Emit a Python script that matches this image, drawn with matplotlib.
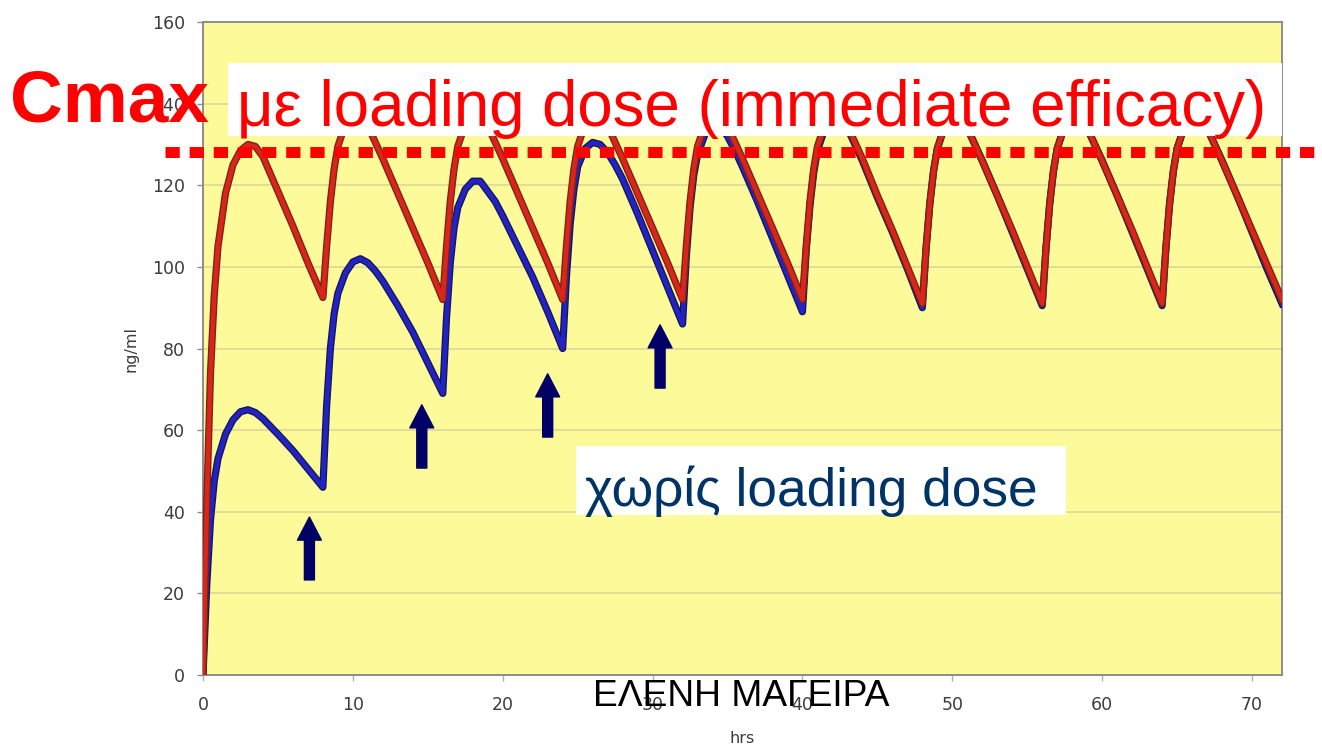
import matplotlib
matplotlib.use("Agg")
import matplotlib.pyplot as plt
from matplotlib.patches import Rectangle
from matplotlib.lines import Line2D
import matplotlib.patheffects as pe

# ---------------- data ----------------
dose_times = [0, 8, 16, 24, 32, 40, 48, 56, 64]
cycle_offsets = [0, 0.25, 0.5, 0.75, 1, 1.5, 2, 2.5, 3, 3.5, 4, 5, 6, 7]
end_time = 72

# with loading dose (red)
red_c1 = [0, 42, 74, 93, 105, 118, 125, 128.5, 130, 129.5, 127, 118.5, 110, 101]
red_c2 = [92.5, 105, 116, 124, 129.5, 135, 137.5, 137.5, 134.5, 130.5, 126.5, 118, 109.5, 101]
red_c3 = [92, 105, 116, 124, 129.5, 135, 137.5, 137.5, 134.5, 130.5, 126.5, 118, 109.5, 101]
red_c4 = [92, 105, 116, 124, 129.5, 135, 137.5, 137.5, 134.5, 130.5, 126.5, 118, 109.5, 101]
red_c5 = [92, 105, 116, 124, 129.5, 135, 137.5, 137.5, 134.5, 130.5, 126.5, 118, 109.5, 101]
red_c6 = [92, 105, 116, 124, 129.5, 135, 137.5, 137.5, 134.5, 130.5, 126.5, 117.5, 109, 100]
red_c7 = [91, 104.5, 115.5, 123.5, 129, 134.5, 137, 137, 134, 130, 126, 117.5, 109, 100]
red_c8 = [91, 104.5, 115.5, 123.5, 129, 134.5, 137, 137, 134, 130, 126, 117.5, 109, 100]
red_c9 = [91, 104.5, 115.5, 123.5, 129, 134.5, 137, 137, 134, 130, 126, 117.5, 109, 100.5]
red_end = 92

# without loading dose (blue)
blue_c1 = [0, 22, 38, 47.5, 53, 59, 62.5, 64.5, 65, 64.3, 62.8, 59, 55, 50.5]
blue_c2 = [46, 66, 80, 88.5, 93.5, 98.5, 101.2, 102, 101, 99, 96.5, 90.5, 84, 76.5]
blue_c3 = [69, 87.5, 101, 109.5, 114.5, 119, 121, 121, 118.5, 116, 112.5, 105, 97.5, 89]
blue_c4 = [80, 97.5, 110.5, 119, 124.5, 129, 130.5, 130, 128, 125, 121.5, 113, 104, 95]
blue_c5 = [86, 102.5, 114.5, 122.5, 127.5, 132.5, 134.5, 134.5, 132, 128.5, 124.5, 116, 107, 98]
blue_c6 = [89, 104, 115, 123, 128.5, 134, 136.5, 136.5, 134, 130, 126, 117, 108.5, 99.5]
blue_c7 = [90, 104.5, 115.5, 123.5, 129, 134.5, 137, 137, 134, 130, 126, 117.5, 108.5, 99.5]
blue_c8 = [90.5, 104.5, 115.5, 123.5, 129, 134.5, 137, 137, 134, 130, 126, 117.5, 108.5, 99.5]
blue_c9 = [90.5, 104.5, 115.5, 123.5, 129, 134.5, 137, 137, 134, 130, 126, 117.5, 108.5, 99.5]
blue_end = 91

red_cycles = [red_c1, red_c2, red_c3, red_c4, red_c5, red_c6, red_c7, red_c8, red_c9]
blue_cycles = [blue_c1, blue_c2, blue_c3, blue_c4, blue_c5, blue_c6, blue_c7, blue_c8, blue_c9]

y_ticks = [0, 20, 40, 60, 80, 100, 120, 140, 160]
x_ticks = [0, 10, 20, 30, 40, 50, 60, 70]

# dosing arrows (x, tail, tip) in data units
arrow_x = [7.1, 14.6, 23.0, 30.5]
arrow_tail = [23.3, 50.7, 58.3, 70.3]
arrow_tip = [38.7, 66.2, 73.8, 85.8]

title_cmax = "Cmax"
title_rest = "με loading dose (immediate efficacy)"
label_without = "χωρίς loading dose"
author = "ΕΛΕΝΗ ΜΑΓΕΙΡΑ"


def build(cycles, end_val):
    t, y = [], []
    for d, vals in zip(dose_times, cycles):
        for o, v in zip(cycle_offsets, vals):
            t.append(d + o)
            y.append(v)
    t.append(end_time)
    y.append(end_val)
    return t, y


W, H = 1322, 747
plt.rcParams['font.family'] = ['DejaVu Sans']
fig = plt.figure(figsize=(W / 100, H / 100), dpi=100)
fig.patch.set_facecolor('white')

ax = fig.add_axes([203 / W, 1 - 675 / H, 1079 / W, 653 / H])
ax.set_facecolor('#FDFB99')
ax.set_xlim(0, 72)
ax.set_ylim(0, 160)
ax.set_yticks(y_ticks)
ax.set_xticks(x_ticks)
ax.grid(axis='y', color='#DCD79A', lw=1.2)
ax.set_axisbelow(True)
for s in ax.spines.values():
    s.set_color('#8c8c8c')
    s.set_linewidth(1.4)
ax.tick_params(axis='y', length=4, width=1, color='#8c8c8c', pad=9,
               labelsize=12.5, labelcolor='#3c3c3c')
ax.tick_params(axis='x', length=4, width=1, color='#b0b0b0', pad=11,
               labelsize=12.5, labelcolor='#3c3c3c')
ax.set_ylabel('ng/ml', fontsize=11.5, color='#3c3c3c')
ax.set_xlabel('hrs', fontsize=11.5, color='#3c3c3c')
ax.yaxis.set_label_coords(-0.06, 0.5)
ax.xaxis.set_label_coords(0.4995, -0.0965)
ax.xaxis.label.set_va('center')

tb, yb = build(blue_cycles, blue_end)
tr, yr = build(red_cycles, red_end)
ax.plot(tb, yb, color='#2323C4', lw=3.3, solid_joinstyle='round', zorder=3,
        path_effects=[pe.Stroke(linewidth=5.2, foreground='#14145A'), pe.Normal()])
ax.plot(tr, yr, color='#D8261A', lw=3.3, solid_joinstyle='round', zorder=4,
        path_effects=[pe.Stroke(linewidth=5.2, foreground='#7A2216'), pe.Normal()])

for x, a, b in zip(arrow_x, arrow_tail, arrow_tip):
    ax.annotate('', xy=(x, b), xytext=(x, a),
                arrowprops=dict(arrowstyle='simple,head_length=0.83,head_width=0.86,tail_width=0.36',
                                color='#000066', shrinkA=0, shrinkB=0, mutation_scale=20),
                zorder=6)

# white boxes (figure pixel coords)
def fbox(x0, y0, x1, y1):
    fig.patches.append(Rectangle((x0 / W, 1 - y1 / H), (x1 - x0) / W, (y1 - y0) / H,
                                 transform=fig.transFigure, facecolor='white',
                                 edgecolor='none', zorder=2))

fbox(228, 63, 1282, 136)
fbox(576, 446, 1066, 515)

# dotted Cmax line
fig.add_artist(Line2D([165 / W, 1.0], [1 - 152 / H] * 2, transform=fig.transFigure,
                      color='#FF0000', lw=7.9, linestyle=(0, (1.3, 0.9)),
                      solid_capstyle='butt', dash_capstyle='butt', zorder=5))

sans = ['Liberation Sans', 'DejaVu Sans']
t_cmax = fig.text(10 / W, 1 - 122 / H, title_cmax, color='#FF0000', fontsize=54,
                  fontweight='bold', family=sans, va='baseline', ha='left', zorder=7)
t_rest = fig.text(237 / W, 1 - 126 / H, title_rest, color='#FF0000', fontsize=42,
                  family=sans, va='baseline', ha='left', zorder=7)
t_wo = fig.text(585 / W, 1 - 506 / H, label_without, color='#003366', fontsize=38,
                family=sans, va='baseline', ha='left', zorder=7)
t_auth = fig.text(593 / W, 1 - 706 / H, author, color='black', fontsize=25,
                  family=sans, va='baseline', ha='left', zorder=7)

fig.canvas.draw()
r = fig.canvas.get_renderer()
for txt, target in [(t_cmax, 199), (t_rest, 1030), (t_wo, 452), (t_auth, 297)]:
    w = txt.get_window_extent(r).width
    txt.set_fontsize(txt.get_fontsize() * target / w)

fig.savefig('out.png', dpi=100, facecolor='white')
